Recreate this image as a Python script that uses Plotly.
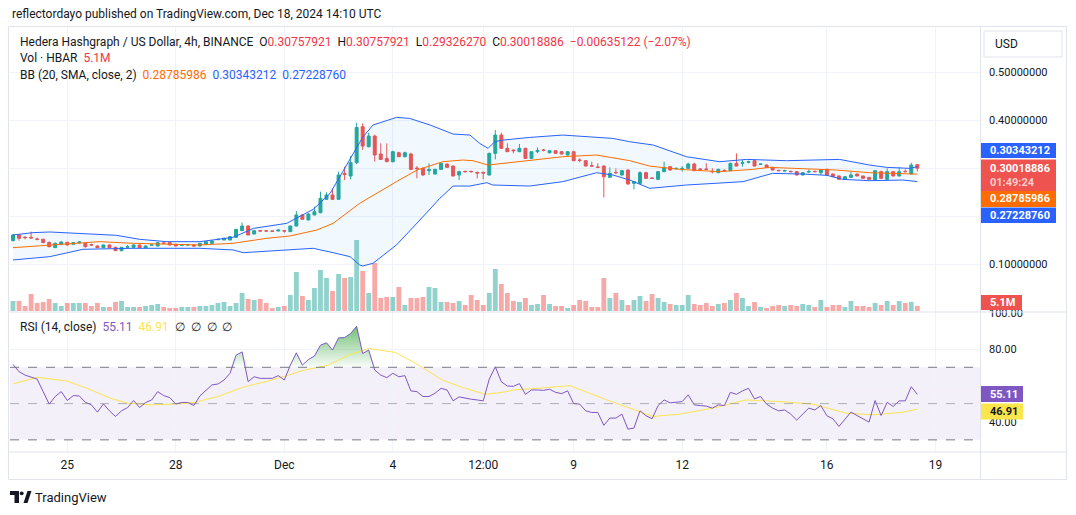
import numpy as np
import pandas as pd
import plotly.graph_objects as go

# ---------------- data ----------------
start_time = "2024-11-23 12:00"   # first 4h candle
bar_hours = 4

opens = [
    .1492, .1610, .1562, .1562, .1527, .1520, .1457, .1346, .1409, .1457,
    .1416, .1444, .1437, .1409, .1381, .1346, .1402, .1353, .1284, .1353,
    .1353, .1402, .1346, .1395, .1381, .1444, .1451, .1416, .1395, .1402,
    .1402, .1381, .1416, .1437, .1513, .1506, .1506, .1562, .1700, .1797,
    .1631, .1700, .1697, .1693, .1693, .1700, .1680, .1797, .2027, .1923,
    .2027, .2075, .2353, .2443, .2353, .2894, .2839, .3116, .3866, .3449,
    .3671, .3297, .3206, .3137, .3324, .3241, .3297, .3005, .2998, .2950,
    .2880, .2977, .3088, .3046, .2860, .2936, .2936, .2915, .2915, .2860,
    .3311, .3692, .3415, .3380, .3345, .3415, .3206, .3345, .3380, .3324,
    .3366, .3345, .3276, .3345, .3172, .3158, .3053, .3026, .3046, .2811,
    .2915, .2860, .2963, .2686, .2686, .2908, .2797, .2769, .2929, .3033,
    .2991, .2991, .2998, .3088, .2984, .2984, .2936, .2908, .2957, .2950,
    .3102, .3102, .3123, .3158, .3081, .3067, .3019, .2957, .2943, .2936,
    .2929, .2860, .2922, .2936, .2908, .2977, .2880, .2839, .2769, .2811,
    .2880, .2839, .2811, .2755, .2929, .2769, .2929, .2839, .2936, .2880,
    .30757921]
highs = [
    .1631, .1631, .1590, .1680, .1555, .1534, .1471, .1451, .1478, .1471,
    .1458, .1478, .1451, .1430, .1395, .1409, .1409, .1367, .1360, .1402,
    .1416, .1409, .1388, .1416, .1458, .1471, .1471, .1423, .1409, .1416,
    .1409, .1444, .1478, .1492, .1534, .1555, .1590, .1735, .1867, .1811,
    .1707, .1714, .1707, .1707, .1721, .1714, .1804, .2110, .2041, .2061,
    .2200, .2513, .2500, .2582, .2929, .3033, .3255, .3949, .3935, .3741,
    .3700, .3519, .3519, .3366, .3345, .3345, .3324, .3046, .3019, .3102,
    .2991, .3116, .3102, .3060, .2950, .2950, .2950, .2929, .2929, .3324,
    .3796, .3741, .3519, .3394, .3505, .3429, .3352, .3435, .3401, .3380,
    .3380, .3359, .3359, .3366, .3206, .3172, .3137, .3102, .3060, .3019,
    .2998, .2963, .2977, .2728, .2936, .2929, .2811, .2943, .3137, .3046,
    .3012, .3046, .3116, .3116, .3005, .3102, .2998, .2991, .2977, .3116,
    .3311, .3172, .3158, .3179, .3095, .3081, .3033, .2970, .2970, .2950,
    .2943, .2915, .2977, .2950, .2977, .2991, .2894, .2853, .2832, .2929,
    .2894, .2846, .2818, .2963, .2950, .2998, .2943, .3019, .2977, .3116,
    .30757921]
lows = [
    .1478, .1492, .1520, .1541, .1499, .1444, .1353, .1339, .1402, .1395,
    .1409, .1437, .1346, .1381, .1339, .1339, .1339, .1277, .1270, .1346,
    .1346, .1339, .1332, .1388, .1374, .1430, .1395, .1374, .1388, .1395,
    .1374, .1374, .1409, .1430, .1506, .1499, .1499, .1555, .1693, .1610,
    .1624, .1686, .1686, .1686, .1686, .1659, .1673, .1790, .1937, .1916,
    .2020, .2061, .2346, .2339, .2346, .2755, .2769, .3088, .3380, .3435,
    .3137, .3172, .3130, .3123, .3234, .3227, .2963, .2790, .2846, .2860,
    .2873, .2970, .3012, .2832, .2755, .2908, .2908, .2790, .2769, .2853,
    .3185, .3401, .3338, .3311, .3338, .3199, .3199, .3317, .3352, .3310,
    .3304, .3290, .3269, .3151, .3130, .3040, .3033, .3005, .2395, .2797,
    .2880, .2846, .2658, .2561, .2672, .2783, .2776, .2762, .2922, .2956,
    .2977, .2929, .2991, .2943, .2963, .2963, .2894, .2901, .2936, .2943,
    .3040, .3033, .3102, .3040, .3074, .3012, .2956, .2936, .2936, .2915,
    .2853, .2853, .2908, .2922, .2860, .2846, .2818, .2762, .2762, .2804,
    .2832, .2783, .2762, .2748, .2783, .2762, .2832, .2832, .2915, .2873,
    .29326270]
closes = [
    .1610, .1541, .1555, .1548, .1520, .1451, .1367, .1437, .1464, .1402,
    .1451, .1464, .1367, .1402, .1346, .1402, .1346, .1284, .1353, .1367,
    .1402, .1346, .1381, .1402, .1451, .1437, .1402, .1381, .1402, .1404,
    .1381, .1437, .1471, .1485, .1520, .1541, .1575, .1728, .1797, .1610,
    .1700, .1693, .1693, .1690, .1714, .1693, .1797, .2027, .1937, .2047,
    .2096, .2374, .2443, .2353, .2860, .2867, .3116, .3852, .3463, .3671,
    .3276, .3185, .3137, .3345, .3241, .3324, .2977, .2991, .2860, .2970,
    .2977, .3102, .3019, .2839, .2929, .2929, .2929, .2901, .2901, .3311,
    .3692, .3415, .3345, .3366, .3415, .3206, .3345, .3373, .3373, .3366,
    .3311, .3297, .3345, .3158, .3165, .3046, .3046, .3019, .2825, .2894,
    .2908, .2950, .2672, .2721, .2908, .2790, .2790, .2929, .3019, .2963,
    .2998, .2998, .3088, .2950, .2977, .2977, .2929, .2977, .2950, .3102,
    .3046, .3116, .3137, .3046, .3088, .3019, .2963, .2950, .2950, .2929,
    .2860, .2908, .2929, .2929, .2963, .2860, .2825, .2769, .2825, .2860,
    .2839, .2790, .2769, .2950, .2790, .2929, .2839, .2929, .2929, .3067,
    .30018886]
volumes_m = [
    10, 10, 5, 17, 8, 9, 12, 8, 5, 8,
    8, 8, 8, 5, 8, 4, 4, 9, 10, 4,
    4, 4, 5, 6, 7, 4, 3, 3, 4, 4,
    4, 5, 5, 6, 8, 9, 5, 8, 18, 12,
    11, 12, 8, 3, 4, 5, 16, 39, 15, 11,
    23, 41, 33, 20, 37, 33, 34, 71, 40, 18,
    48, 13, 14, 14, 24, 6, 13, 13, 14, 24,
    23, 9, 9, 8, 10, 6, 16, 11, 6, 18,
    42, 27, 18, 10, 9, 13, 6, 7, 16, 7,
    5, 5, 3, 6, 11, 10, 4, 4, 33, 13,
    18, 11, 6, 11, 15, 10, 17, 13, 9, 7,
    6, 6, 16, 7, 6, 8, 5, 7, 8, 11,
    18, 13, 5, 9, 4, 3, 5, 6, 5, 6,
    5, 7, 6, 4, 11, 4, 6, 6, 4, 10,
    5, 5, 4, 8, 6, 10, 6, 10, 8, 9,
    5.1]

# Bollinger Bands (20, SMA, close, 2) read at bar positions
bb_upper_idx = [0, 3.3, 6.1, 11.6, 17.2, 21, 25.5, 31, 36.5, 39.9, 45.4, 49.8, 52.6, 58,
                59.7, 63.6, 65.8, 69.2, 73, 75.8, 77.4, 78.8, 79.9, 81.3, 85.7, 91.2, 95.7,
                99.5, 102.3, 106.2, 111.7, 117.2, 121.7, 128.3, 137.1, 142.1, 144.9, 148.8, 150]
bb_upper = [.1610, .1659, .1673, .1631, .1603, .1520, .1471, .1471, .1562, .1749, .1853, .2145, .2478, .3643,
            .3900, .4060, .4039, .3900, .3713, .3692, .3519, .3415, .3553, .3588, .3643, .3692, .3657,
            .3622, .3553, .3484, .3241, .3137, .3185, .3158, .3185, .3067, .3019, .2998, .30343212]
bb_mid_idx = [0, 6, 14.4, 19.9, 25.5, 31, 36.5, 42.1, 45.9, 50.4, 53.1, 57.5, 63.6, 67, 71.3, 74.6,
              76.3, 78.8, 81.3, 85.7, 91.2, 96.8, 102.3, 105.6, 110.6, 117.2, 122.7, 125.5, 131,
              136.6, 142.1, 147.6, 150]
bb_mid = [.1346, .1402, .1471, .1437, .1423, .1402, .1437, .1541, .1589, .1714, .1853, .2270, .2721, .2963, .3137, .3172,
          .3158, .3067, .3102, .3158, .3241, .3276, .3158, .3046, .2977, .2929, .2977, .3019, .2998,
          .2963, .2908, .2894, .28785986]
bb_lower_idx = [0, 6.1, 11.6, 19.9, 31, 36.5, 38.2, 44.8, 49.8, 53.1, 55.9, 57.5, 58, 59.7, 63.6,
                67.5, 70.8, 73, 75.8, 78.6, 79.6, 85.7, 91.2, 96.8, 99.5, 102.3, 105.6, 111.7, 117.2,
                121.1, 124.4, 126, 131, 135, 137.7, 142.1, 147.6, 150]
bb_lower = [.1090, .1159, .1312, .1333, .1333, .1298, .1242, .1298, .1333, .1242, .1159, .0985, .0965, .1020, .1402,
            .1922, .2374, .2630, .2630, .2700, .2651, .2630, .2721, .2908, .2860, .2755, .2582, .2651, .2700,
            .2721, .2839, .2894, .2880, .2853, .2769, .2741, .2755, .27228760]

# RSI (14, close), one value per bar
rsi = [
    71.6, 67.6, 65.7, 64.6, 63.5, 56.6, 49.7, 53.9, 56.6, 51.7,
    54.4, 54.2, 50.7, 49.3, 45.3, 49.8, 46.0, 42.9, 46.0, 47.8,
    51.7, 47.8, 50.6, 52.0, 56.6, 54.4, 53.3, 49.8, 50.6, 50.6,
    48.9, 54.2, 57.1, 60.3, 60.8, 63.0, 66.7, 76.7, 78.5, 62.1,
    64.8, 63.9, 63.9, 63.9, 65.4, 63.0, 71.2, 78.0, 71.2, 74.3,
    76.2, 82.2, 83.5, 79.5, 86.2, 86.4, 88.6, 92.6, 77.6, 79.5,
    68.5, 65.7, 64.3, 66.7, 64.8, 65.4, 57.0, 56.6, 53.9, 53.9,
    55.7, 58.4, 57.5, 51.5, 53.7, 52.9, 52.4, 52.0, 51.5, 63.5,
    70.3, 62.0, 59.7, 59.5, 61.0, 55.1, 57.5, 57.5, 57.3, 57.9,
    56.2, 55.5, 57.0, 50.0, 49.7, 46.0, 45.1, 45.1, 38.0, 42.0,
    42.0, 44.2, 35.9, 36.5, 46.0, 43.3, 41.6, 48.9, 52.0, 50.4,
    50.6, 51.1, 54.8, 49.3, 48.9, 48.6, 47.5, 49.3, 48.9, 56.2,
    55.1, 57.0, 58.4, 52.6, 53.9, 49.7, 47.5, 46.0, 46.5, 44.2,
    40.9, 44.5, 47.5, 46.5, 48.9, 43.3, 41.6, 37.4, 41.4, 45.3,
    43.4, 41.6, 39.8, 51.7, 43.4, 50.7, 48.4, 51.5, 51.5, 59.3,
    55.11]
rsi_ma_idx = [0, 4, 9, 12.3, 16.2, 19, 23, 26.8, 30, 34, 38.4, 42.3, 45.7, 47.9, 52.3, 55.7, 59,
              63.4, 67.3, 71.2, 74.6, 78.4, 81.2, 83, 88.5, 92.4, 98.5, 106.2, 110.6, 116.1,
              121.6, 127.2, 132.7, 138.2, 142.7, 147.7, 150]
rsi_ma = [60.8, 64.5, 62.4, 58.4, 52.9, 50.2, 49.3, 49.7, 50.6, 53.9, 59.3, 62.4, 65.7, 68.1, 71.2, 76.7, 80.4,
          78.2, 71.2, 63.0, 58.8, 55.1, 56.2, 57.5, 58.8, 59.9, 52.0, 42.9, 44.2, 47.5,
          52.0, 51.1, 49.7, 44.7, 43.8, 45.3, 46.91]

x_tick_dates = ["2024-11-25 00:00", "2024-11-28 00:00", "2024-12-01 00:00", "2024-12-04 00:00",
                "2024-12-06 12:00", "2024-12-09 00:00", "2024-12-12 00:00", "2024-12-16 00:00",
                "2024-12-19 00:00"]
x_tick_text = ["25", "28", "Dec", "4", "12:00", "9", "12", "16", "19"]
price_ticks = [0.1, 0.2, 0.3, 0.4, 0.5]
price_tick_text = ["0.10000000", "", "", "0.40000000", "0.50000000"]
rsi_ticks = [40, 60, 80, 100]
rsi_tick_text = ["40.00", "", "80.00", "100.00"]

# ---------------- helpers ----------------
UP, DOWN = "#26A69A", "#EF5350"
BLUE, ORANGE, PURPLE = "#2962FF", "#FF6D00", "#7E57C2"
YELLOW = "#FBE54D"
TXT = "#131722"
FONT = "Roboto, 'Noto Sans', sans-serif"

t0 = pd.Timestamp(start_time)


def idx_to_time(idx):
    return t0 + pd.to_timedelta(np.asarray(idx, dtype=float) * bar_hours, unit="h")


n = len(closes)
times = idx_to_time(np.arange(n))
vol_colors = ["rgba(38,166,154,0.5)" if c >= o else "rgba(239,83,80,0.5)" for o, c in zip(opens, closes)]

# layout geometry in page pixels
L, R, T, B = 10, 980, 27, 452


def px(x):
    return (x - L) / (R - L)


def py(y):
    return (B - y) / (B - T)


split = (B - 312) / (B - T)

fig = go.Figure()
fig.add_trace(go.Bar(x=times, y=volumes_m, marker=dict(color=vol_colors, line=dict(width=0)),
                     width=bar_hours * 3600 * 1000 * 0.8, xaxis="x", yaxis="y", hoverinfo="skip"))
fig.add_trace(go.Scatter(x=idx_to_time(bb_lower_idx), y=bb_lower, mode="lines",
                         line=dict(color=BLUE, width=1), yaxis="y2", hoverinfo="skip"))
fig.add_trace(go.Scatter(x=idx_to_time(bb_upper_idx), y=bb_upper, mode="lines",
                         line=dict(color=BLUE, width=1), fill="tonexty",
                         fillcolor="rgba(33,150,243,0.06)", yaxis="y2", hoverinfo="skip"))
fig.add_trace(go.Scatter(x=idx_to_time(bb_mid_idx), y=bb_mid, mode="lines",
                         line=dict(color=ORANGE, width=1), yaxis="y2", hoverinfo="skip"))
fig.add_trace(go.Candlestick(x=times, open=opens, high=highs, low=lows, close=closes,
                             increasing=dict(line=dict(color=UP, width=1), fillcolor=UP),
                             decreasing=dict(line=dict(color=DOWN, width=1), fillcolor=DOWN),
                             whiskerwidth=0, yaxis="y2", hoverinfo="skip"))

# RSI pane
fig.add_trace(go.Scatter(x=times, y=[70] * n, mode="lines", line=dict(width=0, color="rgba(0,0,0,0)"),
                         yaxis="y3", hoverinfo="skip"))
fig.add_trace(go.Scatter(x=times, y=np.maximum(np.array(rsi), 70), mode="lines",
                         line=dict(width=0, color="rgba(0,0,0,0)"), fill="tonexty",
                         fillgradient=dict(type="vertical", start=70, stop=93,
                                           colorscale=[[0, "rgba(76,175,80,0.03)"], [1, "rgba(76,175,80,0.8)"]]),
                         yaxis="y3", hoverinfo="skip"))
fig.add_trace(go.Scatter(x=idx_to_time(rsi_ma_idx), y=rsi_ma, mode="lines",
                         line=dict(color=YELLOW, width=1), yaxis="y3", hoverinfo="skip"))
fig.add_trace(go.Scatter(x=times, y=rsi, mode="lines", line=dict(color=PURPLE, width=1),
                         yaxis="y3", hoverinfo="skip"))

shapes = []
# RSI band and levels
shapes.append(dict(type="rect", xref="paper", yref="y3", x0=0, x1=1, y0=30, y1=70,
                   fillcolor="rgba(126,87,194,0.09)", line=dict(width=0), layer="below"))
for lvl, col in [(70, "#787B86"), (50, "rgba(120,123,134,0.55)"), (30, "#787B86")]:
    shapes.append(dict(type="line", xref="paper", yref="y3", x0=0, x1=1, y0=lvl, y1=lvl,
                       line=dict(color=col, width=1, dash="dash")))
# frame and separators
FR = "#E0E3EB"
shapes.append(dict(type="rect", xref="paper", yref="paper", x0=px(8.5), x1=px(1066.5), y0=py(479.5), y1=py(26.5),
                   line=dict(color=FR, width=1), fillcolor="rgba(0,0,0,0)"))
shapes.append(dict(type="line", xref="paper", yref="paper", x0=px(980.5), x1=px(980.5), y0=py(479.5), y1=py(26.5),
                   line=dict(color=FR, width=1)))
for yy in (312, 452):
    shapes.append(dict(type="line", xref="paper", yref="paper", x0=px(8.5), x1=px(1066.5), y0=py(yy), y1=py(yy),
                       line=dict(color=FR, width=1)))
# USD box
shapes.append(dict(type="rect", xref="paper", yref="paper", x0=px(984), x1=px(1062), y0=py(57), y1=py(31),
                   line=dict(color=FR, width=1), fillcolor="white"))

annotations = []


def tag(text, y_top, y_bot, color, x_right=1056, fcolor="white", lines=None):
    shapes.append(dict(type="rect", xref="paper", yref="paper", x0=px(981), x1=px(x_right),
                       y0=py(y_bot), y1=py(y_top), fillcolor=color, line=dict(width=0), layer="above"))
    if lines is None:
        lines = [(text, (y_top + y_bot) / 2, fcolor)]
    for t, yc, fc in lines:
        annotations.append(dict(xref="paper", yref="paper", x=px(988), y=py(yc), xanchor="left", yanchor="middle",
                                text=f"<b>{t}</b>", showarrow=False, font=dict(size=11, color=fc, family=FONT)))


tag("0.30343212", 143, 158, BLUE)
tag("", 159.5, 191, DOWN, lines=[("0.30018886", 168, "white"), ("01:49:24", 182.5, "rgba(255,255,255,0.72)")])
tag("0.28785986", 191, 207, ORANGE)
tag("0.27228760", 207.5, 223, BLUE)
tag("5.1M", 295, 310, DOWN, x_right=1022)
tag("55.11", 386, 402, PURPLE, x_right=1023)
tag("46.91", 403.5, 419.5, YELLOW, x_right=1023, fcolor=TXT)


def text(x, y, t, size=12, color=TXT):
    annotations.append(dict(xref="paper", yref="paper", x=px(x), y=py(y), xanchor="left", yanchor="middle",
                            text=t, showarrow=False, font=dict(size=size, color=color, family=FONT)))


RED_T = "#F23645"
sp = "&nbsp;&nbsp;"
text(10, 14, "reflectordayo published on TradingView.com, Dec 18, 2024 14:10 UTC", 12)
text(18, 42, "Hedera Hashgraph / US Dollar, 4h, BINANCE" + sp +
     f"O<span style='color:{RED_T}'>0.30757921</span>" + sp +
     f"H<span style='color:{RED_T}'>0.30757921</span>" + sp +
     f"L<span style='color:{RED_T}'>0.29326270</span>" + sp +
     f"C<span style='color:{RED_T}'>0.30018886</span>" + sp +
     f"<span style='color:{RED_T}'>−0.00635122 (−2.07%)</span>", 12)
text(18, 58, f"Vol · HBAR{sp}<span style='color:{RED_T}'>5.1M</span>", 12)
text(18, 75, f"BB (20, SMA, close, 2){sp}<span style='color:{ORANGE}'>0.28785986</span>{sp}"
     f"<span style='color:{BLUE}'>0.30343212</span>{sp}<span style='color:{BLUE}'>0.27228760</span>", 12)
text(18, 327, f"RSI (14, close){sp}<span style='color:{PURPLE}'>55.11</span>{sp}"
     f"<span style='color:{YELLOW}'>46.91</span>{sp}∅{sp}∅{sp}∅{sp}∅", 12)
text(993, 44, "USD", 12)
text(33, 497, "TradingView", 13)

# TradingView logo
LOGO = TXT
shapes.append(dict(type="rect", xref="paper", yref="paper", x0=px(10), x1=px(19), y0=py(495), y1=py(491),
                   fillcolor=LOGO, line=dict(width=0)))
shapes.append(dict(type="rect", xref="paper", yref="paper", x0=px(14.5), x1=px(19), y0=py(503), y1=py(491),
                   fillcolor=LOGO, line=dict(width=0)))
shapes.append(dict(type="circle", xref="paper", yref="paper", x0=px(19.8), x1=px(23.6), y0=py(495.2), y1=py(491.4),
                   fillcolor=LOGO, line=dict(width=0)))
shapes.append(dict(type="path", xref="paper", yref="paper",
                   path=f"M {px(23.5)} {py(503)} L {px(27.5)} {py(491)} L {px(31.5)} {py(491)} L {px(27.5)} {py(503)} Z",
                   fillcolor=LOGO, line=dict(width=0)))

x_lo = idx_to_time(-0.5)
x_hi = idx_to_time(160.4)
tick_times = [pd.Timestamp(d) for d in x_tick_dates]

fig.update_layout(
    width=1076, height=515,
    margin=dict(l=L, r=1076 - R, t=T, b=515 - B),
    paper_bgcolor="white", plot_bgcolor="white",
    showlegend=False, hovermode=False,
    font=dict(family=FONT, color=TXT, size=12),
    xaxis=dict(type="date", range=[x_lo, x_hi], tickvals=tick_times, ticktext=x_tick_text,
               showgrid=True, gridcolor="#F0F3FA", zeroline=False, showline=False, ticks="",
               tickfont=dict(size=12, color=TXT), anchor="y3", rangeslider=dict(visible=False),
               ticklabelstandoff=4, fixedrange=True),
    yaxis=dict(domain=[split, 1], range=[-1, 284], visible=False, fixedrange=True),
    yaxis2=dict(overlaying="y", side="right", anchor="x", range=[0.0006, 0.5943],
                tickvals=price_ticks, ticktext=price_tick_text, showgrid=True, gridcolor="#F0F3FA",
                zeroline=False, showline=False, ticks="", tickfont=dict(size=11, color=TXT),
                ticklabelstandoff=8, fixedrange=True),
    yaxis3=dict(domain=[0, split], side="right", anchor="x", range=[23.3, 100.5],
                tickvals=rsi_ticks, ticktext=rsi_tick_text, showgrid=True, gridcolor="#F0F3FA",
                zeroline=False, showline=False, ticks="", tickfont=dict(size=11, color=TXT),
                ticklabelstandoff=8, fixedrange=True),
    shapes=shapes, annotations=annotations,
)

fig.write_html("out.html")
